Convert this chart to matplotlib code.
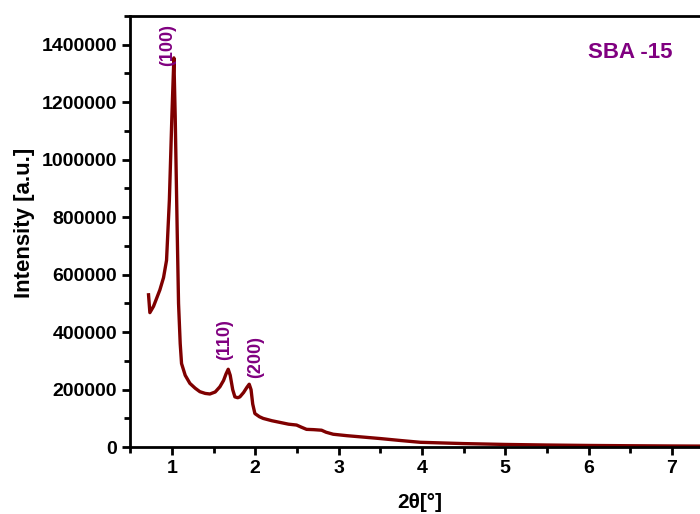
import matplotlib.pyplot as plt
from matplotlib.ticker import MultipleLocator, FixedLocator

plt.rcParams['font.family'] = ['Liberation Sans', 'DejaVu Sans']

two_theta = [0.72, 0.736, 0.78, 0.856, 0.90, 0.936, 0.97, 1.0, 1.024, 1.04, 1.064,
             1.08, 1.10, 1.116, 1.16, 1.216, 1.28, 1.336, 1.40, 1.456, 1.52, 1.576,
             1.62, 1.65, 1.676, 1.70, 1.73, 1.756, 1.79, 1.816, 1.86, 1.90, 1.928,
             1.95, 1.97, 1.996, 2.05, 2.096, 2.2, 2.3, 2.4, 2.496, 2.55, 2.616, 2.7,
             2.796, 2.85, 2.936, 3.1, 3.3, 3.5, 3.75, 3.98, 4.5, 5.0, 5.5, 6.0, 6.5,
             7.0, 7.5, 8.0]
intensity = [530000, 468000, 490000, 547000, 590000, 650000, 860000, 1150000, 1354000,
             1150000, 750000, 500000, 360000, 291000, 250000, 222000, 205000, 193000,
             187000, 185000, 192000, 210000, 232000, 255000, 271000, 250000, 200000,
             175000, 172000, 175000, 190000, 208000, 219000, 200000, 150000, 117000,
             106000, 100000, 92000, 86000, 80000, 77000, 70000, 62000, 61000, 59000,
             52000, 45000, 40000, 35000, 30000, 23000, 17000, 12500, 9500, 7500, 6000,
             5000, 4200, 3600, 3200]

peak_labels = ['(100)', '(110)', '(200)']
peak_x = [0.95, 1.63, 2.0]
peak_y = [1400000, 375000, 315000]

sample_name = 'SBA -15'

fig = plt.figure(figsize=(7.0, 5.14), dpi=100)
ax = fig.add_axes([0.186, 0.130, 0.893, 0.839])

ax.plot(two_theta, intensity, color='#7f0000', lw=2.4)

for lab, px, py in zip(peak_labels, peak_x, peak_y):
    ax.text(px, py, lab, rotation=90, color='#800080', fontsize=13,
            fontweight='bold', ha='center', va='center')

ax.text(0.80, 0.916, sample_name, transform=ax.transAxes, color='#800080',
        fontsize=16, fontweight='bold', ha='center', va='center')

ax.set_xlim(0.5, 8.0)
ax.set_ylim(0, 1500000)
ax.xaxis.set_major_locator(FixedLocator([1, 2, 3, 4, 5, 6, 7]))
ax.xaxis.set_minor_locator(MultipleLocator(0.5))
ax.yaxis.set_major_locator(MultipleLocator(200000))
ax.yaxis.set_minor_locator(MultipleLocator(100000))
ax.ticklabel_format(style='plain', axis='y', useOffset=False)

for s in ax.spines.values():
    s.set_linewidth(2)
ax.tick_params(which='major', direction='out', length=6, width=2, labelsize=14)
ax.tick_params(which='minor', direction='out', length=4, width=2)
for t in ax.get_xticklabels() + ax.get_yticklabels():
    t.set_fontweight('bold')

ax.set_ylabel('Intensity [a.u.]', fontsize=16, fontweight='bold')
ax.set_xlabel('2θ[°]', fontsize=15, fontweight='bold')
ax.xaxis.set_label_coords(0.464, -0.106)
ax.yaxis.set_label_coords(-0.152, 0.52)

fig.savefig('out.png', dpi=100)
